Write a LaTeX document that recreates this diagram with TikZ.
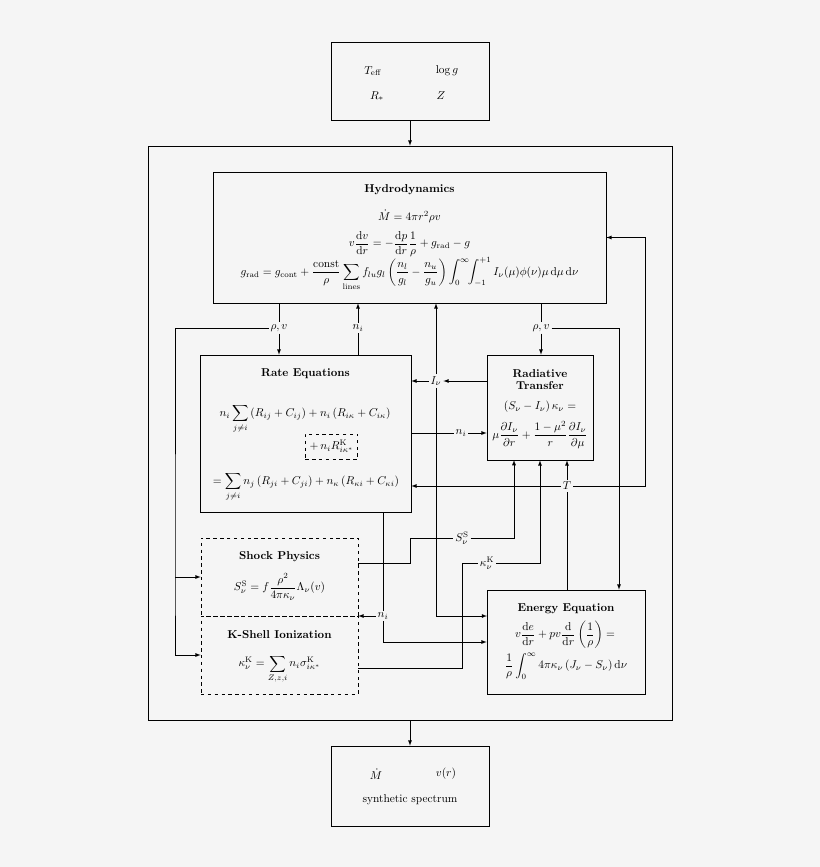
\documentclass[tikz,border=0pt]{standalone}
\usepackage{amsmath}
\usetikzlibrary{fit}
\definecolor{bgGray}{RGB}{245,245,245}

\begin{document}
\begin{tikzpicture}[x=0.877pt, y=-0.877pt, >=latex, line width=0.6pt,
        box/.style={draw, inner sep=0pt},
        dbox/.style={box, dashed},
        ttl/.style={font=\bfseries},
        lbl/.style={inner sep=1.5pt}]
        \fill[bgGray] (0,0) rectangle (820,867);
        \useasboundingbox (0,0) rectangle (820,867);

        \node[box, fit={(331,42) (489,120)}] (inp) {};
        \node (teff) at (373,71) {$T_{\mathrm{eff}}$};
        \node (logg) at (447,71) {$\log g$};
        \node (rstar) at (377,96) {$R_*$};
        \node (metal) at (441,96) {$Z$};

        \node[box, fit={(148,146) (672,720)}] (frame) {};
        \draw[->] (inp.south) -- (frame.north);

        \node[box, fit={(213,172) (606,303)}] (hyd) {};
        \node[ttl] (hydT) at (409.5,189.5) {Hydrodynamics};
        \node (hydA) at (409.5,216) {$\dot M = 4\pi r^2\rho v$};
        \node (hydB) at (409.5,244) {$\displaystyle v\frac{\mathrm{d}v}{\mathrm{d}r} = -\frac{\mathrm{d}p}{\mathrm{d}r}\frac{1}{\rho} + g_{\mathrm{rad}} - g$};
        \node (hydC) at (409.5,274) {$\displaystyle g_{\mathrm{rad}} = g_{\mathrm{cont}} + \frac{\mathrm{const}}{\rho}\sum_{\mathrm{lines}} f_{lu}g_l\left(\frac{n_l}{g_l} - \frac{n_u}{g_u}\right)\int_0^\infty\!\!\int_{-1}^{+1} I_\nu(\mu)\phi(\nu)\mu\,\mathrm{d}\mu\,\mathrm{d}\nu$};

        \node[box, fit={(200,355) (411,512)}] (rate) {};
        \node[ttl] (rateT) at (305.5,373.5) {Rate Equations};
        \node (rateA) at (305,419) {$\displaystyle n_i\sum_{j\neq i}\left(R_{ij} + C_{ij}\right) + n_i\left(R_{i\kappa} + C_{i\kappa}\right)$};
        \node[dbox, minimum width=46pt, minimum height=22pt] (rateK) at (331.5,446.5) {$+\,n_i R^{\mathrm{K}}_{i\kappa^*}$};
        \node (rateB) at (306,487) {$\displaystyle = \sum_{j\neq i} n_j\left(R_{ji} + C_{ji}\right) + n_\kappa\left(R_{\kappa i} + C_{\kappa i}\right)$};

        \node[box, fit={(487,355) (593,460)}] (rt) {};
        \node[ttl, align=center] (rtT) at (540,379.5) {Radiative\\[-1.2pt]Transfer};
        \node (rtA) at (540,407) {$\left(S_\nu - I_\nu\right)\kappa_\nu =$};
        \node (rtB) at (540,435) {$\displaystyle \mu\frac{\partial I_\nu}{\partial r} + \frac{1-\mu^2}{r}\frac{\partial I_\nu}{\partial\mu}$};

        \node[dbox, fit={(201,538) (358,616)}] (shock) {};
        \node[ttl] (shockT) at (279.5,556.5) {Shock Physics};
        \node (shockA) at (279.5,587) {$\displaystyle S^{\mathrm{S}}_\nu = f\frac{\rho^2}{4\pi\kappa_\nu}\Lambda_\nu(v)$};

        \node[dbox, fit={(201,616) (358,694)}] (kshell) {};
        \node[ttl] (kshellT) at (279.5,634.5) {K-Shell Ionization};
        \node (kshellA) at (279.5,669) {$\displaystyle \kappa^{\mathrm{K}}_\nu = \sum_{Z,z,i} n_i\sigma^{\mathrm{K}}_{i\kappa^*}$};

        \node[box, fit={(487,590) (645,694)}] (ee) {};
        \node[ttl] (eeT) at (566,608.5) {Energy Equation};
        \node (eeA) at (565,635) {$\displaystyle v\frac{\mathrm{d}e}{\mathrm{d}r} + pv\frac{\mathrm{d}}{\mathrm{d}r}\left(\frac{1}{\rho}\right) =$};
        \node (eeB) at (566,666) {$\displaystyle \frac{1}{\rho}\int_0^\infty 4\pi\kappa_\nu\left(J_\nu - S_\nu\right)\mathrm{d}\nu$};

        \node[box, fit={(331,746) (489,826)}] (outp) {};
        \node (mdot) at (376,774) {$\dot M$};
        \node (vr) at (446,774) {$v(r)$};
        \node (spec) at (410,800) {synthetic spectrum};
        \draw[->] (frame.south) -- (outp.north);

        \node[lbl] (rvL) at (279,328) {$\rho, v$};
        \node[lbl] (niT) at (358,328) {$n_i$};
        \node[lbl] (rvR) at (541,328) {$\rho, v$};
        \node[lbl] (Inu) at (436,381) {$I_\nu$};
        \node[lbl] (niM) at (461,433) {$n_i$};
        \node[lbl] (Tlab) at (567,486) {$T$};
        \node[lbl] (SS) at (462,538) {$S^{\mathrm{S}}_\nu$};
        \node[lbl] (kK) at (487,563) {$\kappa^{\mathrm{K}}_\nu$};
        \node[lbl] (niB) at (383,616) {$n_i$};

        \coordinate (lbus) at (175,577);
        \coordinate (rvbend) at (619,328);
        \coordinate (tbend) at (645,486);
        \coordinate (eeup) at (487,616);
        \coordinate (ssout) at (358,563);
        \coordinate (ssbend) at (410,538);
        \coordinate (ssin) at (514,460);
        \coordinate (kout) at (358,668);
        \coordinate (kbend) at (462,563);

        \draw (hyd.south -| rvL) -- (rvL);
        \draw[->] (rvL) -- (rvL |- rate.north);
        \draw[->] (rvL) -| (lbus) |- (kshell.west);
        \draw[->] (lbus) -- (shock.west);

        \draw (rate.north -| niT) -- (niT);
        \draw[->] (niT) -- (niT |- hyd.south);

        \draw (hyd.south -| rvR) -- (rvR);
        \draw[->] (rvR) -- (rvR |- rt.north);
        \draw[->] (rvR) -- (rvbend) -- (rvbend |- ee.north);

        \draw[->] (rt.west |- Inu) -- (Inu);
        \draw[->] (Inu) -- (Inu -| rate.east);
        \draw[->] (Inu) -- (Inu |- hyd.south);
        \draw[->] (Inu) |- (eeup);

        \draw (rate.east |- niM) -- (niM);
        \draw[->] (niM) -- (niM -| rt.west);

        \draw (ee.north -| Tlab) -- (Tlab);
        \draw[->] (Tlab) -- (Tlab |- rt.south);
        \draw[->] (Tlab) -- (Tlab -| rate.east);
        \draw[->] (Tlab) -- (tbend) |- (hyd.east);

        \draw (ssout) -| (ssbend) -- (SS);
        \draw[->] (SS) -| (ssin);

        \draw (kout) -| (kbend) -- (kK);
        \draw[->] (kK) -| (rt.south);

        \draw (rate.south -| niB) -- (niB);
        \draw[->] (niB) -- (niB -| shock.east);
        \draw[->] (niB) |- (ee.west);
\end{tikzpicture}
\end{document}
